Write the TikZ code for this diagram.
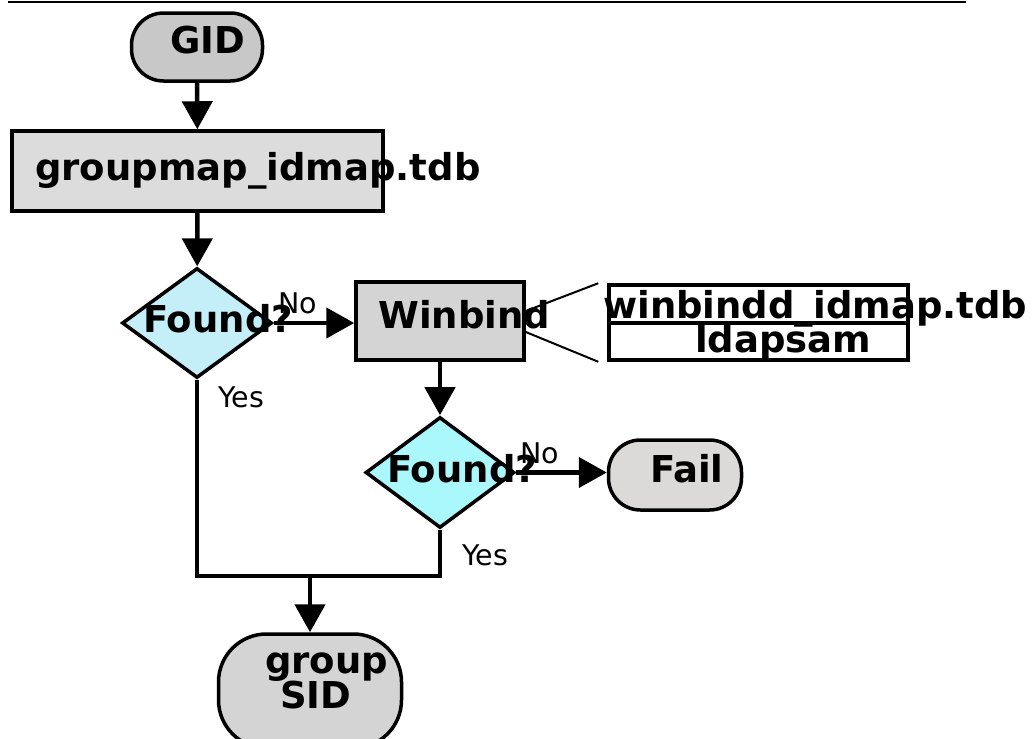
\documentclass[tikz,border=0pt]{standalone}
\usepackage{fontspec}
\setmainfont{DejaVu Sans}
\usetikzlibrary{shapes.geometric,arrows.meta,calc}

\definecolor{gidgray}{HTML}{C8C8C8}
\definecolor{mapgray}{HTML}{DCDCDC}
\definecolor{wbgray}{HTML}{D4D4D4}
\definecolor{failgray}{HTML}{DCDAD8}
\definecolor{foundA}{HTML}{C4EEF8}
\definecolor{foundB}{HTML}{AAF8FC}

\newcommand\boldlbl{\fontsize{37}{38}\selectfont\bfseries}
\newcommand\smalllbl{\fontsize{28.5}{30}\selectfont}

\tikzset{
  proc/.style={draw,line width=3.5pt,rectangle,inner sep=0pt},
  term/.style={draw,line width=3.5pt,rectangle,rounded corners=32pt,inner sep=0pt},
  decision/.style={draw,line width=3.5pt,diamond,inner sep=0pt},
  rec/.style={draw,line width=3.5pt,rectangle,fill=white,inner sep=0pt},
  lbl/.style={inner sep=0pt,anchor=base west,font=\boldlbl},
  answer/.style={inner sep=0pt,anchor=base west,font=\smalllbl},
  flow/.style={line width=4.5pt,-{Triangle[length=28pt,width=30pt]}},
  link/.style={line width=4pt},
  fine/.style={line width=2pt}
}

\begin{document}
\begin{tikzpicture}[x=1pt,y=-1pt]
\useasboundingbox (0,0) rectangle (1034,739);
% top rule
\draw[fine] (8,2) -- (966,2);

% boxes
\node[term,fill=gidgray,minimum width=131pt,minimum height=68pt] (gid) at (197,47) {};
\node[proc,fill=mapgray,minimum width=371pt,minimum height=80pt] (gmap) at (197.5,171) {};
\node[decision,fill=foundA,minimum width=150pt,minimum height=110pt] (found1) at (197,323) {};
\node[proc,fill=wbgray,minimum width=168pt,minimum height=78pt] (winbind) at (440,321) {};
\node[rec,minimum width=299pt,minimum height=38pt] (idmapdb) at (758.5,304) {};
\node[rec,minimum width=299pt,minimum height=37pt] (ldapsam) at (758.5,341.5) {};
\node[decision,fill=foundB,minimum width=149pt,minimum height=111pt] (found2) at (440,472.5) {};
\node[term,fill=failgray,minimum width=133pt,minimum height=70pt] (fail) at (675,475) {};
\node[term,fill=wbgray,rounded corners=48pt,minimum width=183pt,minimum height=114pt] (sid) at (310,691) {};

% texts
\node[lbl] (gidtxt) at (170,53) {GID};
\node[lbl] (gmaptxt) at (35,180) {groupmap\_idmap.tdb};
\node[lbl] (found1txt) at (143,332) {Found?};
\node[lbl] (wbtxt) at (378,328) {Winbind};
\node[lbl] (idmaptxt) at (603,318) {winbindd\_idmap.tdb};
\node[lbl] (ldaptxt) at (695,352) {ldapsam};
\node[lbl] (found2txt) at (387,482) {Found?};
\node[lbl] (failtxt) at (650,482) {Fail};
\node[lbl] (sidtxt1) at (265,673) {group};
\node[lbl] (sidtxt2) at (280,708) {SID};
\node[answer] (no1) at (278,313) {No};
\node[answer] (yes1) at (218,407) {Yes};
\node[answer] (no2) at (520,463) {No};
\node[answer] (yes2) at (462,565) {Yes};

% connectors
\coordinate (join) at (310,576);
\coordinate (rtop) at ($(idmapdb.north west)+(-9,0)$);
\coordinate (rbot) at ($(ldapsam.south west)+(-9,0)$);
\draw[flow] (gid) -- (gmap);
\draw[flow] (gmap) -- (found1);
\draw[flow] (found1.east) -- (found1.east -| winbind.west);
\draw[flow] (winbind) -- (found2);
\draw[flow] (found2.east) -- (found2.east -| fail.west);
\draw[link] (found1.south) |- (join) -| (found2.south);
\draw[flow] (join) -- (sid);
\draw[fine] ($(winbind.east)+(0,-10)$) -- (rtop);
\draw[fine] ($(winbind.east)+(0,11)$) -- (rbot);
\end{tikzpicture}
\end{document}
